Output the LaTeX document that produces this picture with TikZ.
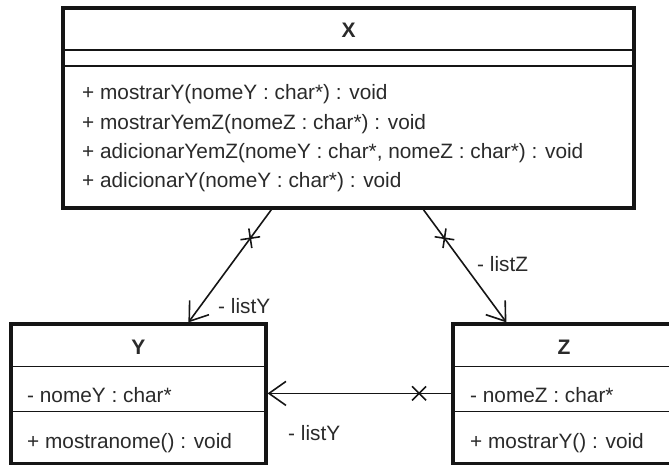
\documentclass[tikz,border=0pt]{standalone}
\usepackage{fontspec}
\setmainfont{Liberation Sans}
\usetikzlibrary{arrows.meta,decorations.markings,calc}
\definecolor{linec}{HTML}{151515}
\definecolor{textc}{HTML}{2A2A2A}
\begin{document}
\begin{tikzpicture}[x=1pt,y=-1pt,
  box/.style={draw=linec, line width=3.2pt, fill=white, inner sep=0pt, rectangle},
  sep/.style={draw=linec, line width=1.8pt},
  txt/.style={anchor=base west, inner sep=0pt, text=textc, font=\fontsize{20.8}{24}\selectfont},
  ttl/.style={inner sep=0pt, text=textc, font=\fontsize{21}{24}\selectfont\bfseries},
  assoc/.style={draw=linec, line width=1.6pt, -{Straight Barb[length=17pt,width=24pt,line width=1.6pt]}},
  xmark/.style={postaction={decorate}, decoration={markings, mark=at position #1 with {\draw[-, draw=linec, line width=1.6pt] (-7,-7)--(7,7) (-7,7)--(7,-7);}}}
]
\useasboundingbox (0,0) rectangle (669,465);

% class X
\node[box, minimum width=571pt, minimum height=200pt] (X) at (348.5,108) {};
\draw[sep] ([yshift=-44pt]X.north west) -- ([yshift=-44pt]X.north east);
\draw[sep] ([yshift=-60pt]X.north west) -- ([yshift=-60pt]X.north east);
\node[ttl] (Xt) at ($(X.north)+(0,24)$) {X};
\node[txt] (xm1) at (82,100) {+ mostrarY(nomeY : char*) : void};
\node[txt] (xm2) at (82,129.3) {+ mostrarYemZ(nomeZ : char*) : void};
\node[txt] (xm3) at (82,158.7) {+ adicionarYemZ(nomeY : char*, nomeZ : char*) : void};
\node[txt] (xm4) at (82,188) {+ adicionarY(nomeY : char*) : void};

% class Y
\node[box, minimum width=255pt, minimum height=140pt] (Y) at (138.5,394) {};
\draw[sep] ([yshift=-44pt]Y.north west) -- ([yshift=-44pt]Y.north east);
\draw[sep] ([yshift=-89pt]Y.north west) -- ([yshift=-89pt]Y.north east);
\node[ttl] (Yt) at ($(Y.north)+(0,25)$) {Y};
\node[txt] (ya) at (27,402) {- nomeY : char*};
\node[txt] (ym) at (27,448) {+ mostranome() : void};

% class Z
\node[box, minimum width=222pt, minimum height=140pt] (Z) at (564,394) {};
\draw[sep] ([yshift=-44pt]Z.north west) -- ([yshift=-44pt]Z.north east);
\draw[sep] ([yshift=-89pt]Z.north west) -- ([yshift=-89pt]Z.north east);
\node[ttl] (Zt) at ($(Z.north)+(0,25)$) {Z};
\node[txt] (za) at (470,402) {- nomeZ : char*};
\node[txt] (zm) at (470,448) {+ mostrarY() : void};

% connector end points
\path (X.south west) ++(210,0) coordinate (xl);
\path (X.south west) ++(362,0) coordinate (xr);
\path (Y.north west) ++(179,0) coordinate (yt);
\path (Z.north west) ++(55,0) coordinate (zt);
\path (Z.north west) ++(0,71) coordinate (zl);
\path (Y.north east) ++(0,71) coordinate (yr);

\draw[assoc, xmark=0.254] (xl) -- (yt);
\draw[assoc, xmark=0.254] (xr) -- (zt);
\draw[assoc, xmark=0.176] (zl) -- (yr);

% labels
\node[txt] (l1) at (218,313) {- listY};
\node[txt] (l2) at (477,271) {- listZ};
\node[txt] (l3) at (288,440) {- listY};
\end{tikzpicture}
\end{document}
